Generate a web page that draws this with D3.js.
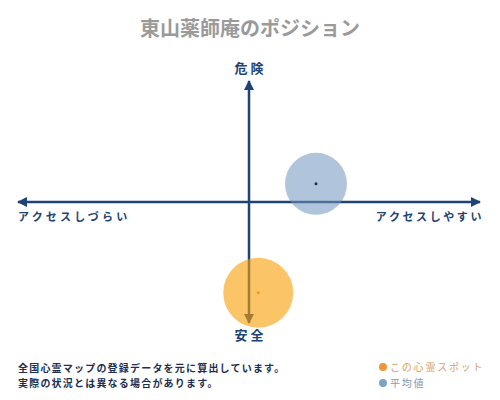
<!DOCTYPE html>
<html>
<head>
<meta charset="utf-8">
<script src="https://cdn.jsdelivr.net/npm/d3@7"></script>
<style>
  body { margin: 0; background: #fff; }
  text { font-family: "Noto Sans CJK JP", sans-serif; }
</style>
</head>
<body>
<div id="chart"></div>
<script>
// Chart data
const title = "東山薬師庵のポジション";
const axisLabels = ["危 険", "安 全", "アクセスしづらい", "アクセスしやすい"];
const seriesNames = ["この心霊スポット", "平均値"];
const seriesX = [0.04, 0.29];   // access (-1 hard .. 1 easy)
const seriesY = [-0.75, 0.15];  // danger (-1 safe .. 1 dangerous)
const seriesR = [35, 31];
const notes = ["全国心霊マップの登録データを元に算出しています。", "実際の状況とは異なる場合があります。"];

const width = 500, height = 400;
const navy = "#1d4474";
const colors = ["#f8a00a", "#6f93bd"];

const svg = d3.select("#chart").append("svg")
    .attr("width", width)
    .attr("height", height);

// Scales
const x = d3.scaleLinear().domain([-1, 1]).range([18, 480]);
const y = d3.scaleLinear().domain([-1, 1]).range([323, 81]);

// Arrow markers
const defs = svg.append("defs");
defs.append("marker")
    .attr("id", "arrow")
    .attr("viewBox", "0 0 10 10")
    .attr("refX", 9).attr("refY", 5)
    .attr("markerWidth", 4).attr("markerHeight", 4)
    .attr("orient", "auto-start-reverse")
    .append("path")
    .attr("d", "M0,0 L10,5 L0,10 Z")
    .attr("fill", navy);

// Axes
svg.append("line")
    .attr("x1", x(-1)).attr("x2", x(1))
    .attr("y1", y(0)).attr("y2", y(0))
    .attr("stroke", navy).attr("stroke-width", 2.5)
    .attr("marker-start", "url(#arrow)")
    .attr("marker-end", "url(#arrow)");
svg.append("line")
    .attr("x1", x(0)).attr("x2", x(0))
    .attr("y1", y(1)).attr("y2", y(-1))
    .attr("stroke", navy).attr("stroke-width", 2.5)
    .attr("marker-start", "url(#arrow)")
    .attr("marker-end", "url(#arrow)");

// Title
svg.append("text")
    .attr("x", width / 2).attr("y", 36)
    .attr("text-anchor", "middle")
    .attr("fill", "#9a9a9a")
    .attr("font-size", 20).attr("font-weight", "bold")
    .text(title);

// Axis labels
svg.append("text").attr("x", x(0)).attr("y", 73)
    .attr("text-anchor", "middle").attr("fill", navy)
    .attr("font-size", 13).attr("font-weight", "bold")
    .text(axisLabels[0]);
svg.append("text").attr("x", x(0)).attr("y", 340)
    .attr("text-anchor", "middle").attr("fill", navy)
    .attr("font-size", 13).attr("font-weight", "bold")
    .text(axisLabels[1]);
svg.append("text").attr("x", 18).attr("y", 221)
    .attr("fill", navy).attr("font-size", 11).attr("font-weight", "bold")
    .attr("letter-spacing", 3.2)
    .text(axisLabels[2]);
svg.append("text").attr("x", 484).attr("y", 221)
    .attr("text-anchor", "end")
    .attr("fill", navy).attr("font-size", 11).attr("font-weight", "bold")
    .attr("letter-spacing", 2.6)
    .text(axisLabels[3]);

// Bubbles (average drawn first, spot on top)
const points = seriesNames.map((n, i) => ({name: n, x: seriesX[i], y: seriesY[i], r: seriesR[i], color: colors[i]}));
const order = [points[1], points[0]];
svg.selectAll(".bubble")
    .data(order)
    .enter().append("circle")
    .attr("class", "bubble")
    .attr("cx", d => x(d.x))
    .attr("cy", d => y(d.y))
    .attr("r", d => d.r)
    .attr("fill", d => d.color)
    .attr("fill-opacity", d => d.name === seriesNames[0] ? 0.62 : 0.55);
svg.selectAll(".dot")
    .data(order)
    .enter().append("circle")
    .attr("class", "dot")
    .attr("cx", d => x(d.x))
    .attr("cy", d => y(d.y))
    .attr("r", 1.5)
    .attr("fill", d => d.name === seriesNames[0] ? "#f39a10" : "#1d2f4a");

// Notes
notes.forEach((t, i) => {
    svg.append("text")
        .attr("x", 18).attr("y", 372 + i * 15)
        .attr("fill", "#1d3050").attr("font-size", 10).attr("font-weight", "bold")
        .attr("letter-spacing", 1.2)
        .text(t);
});

// Legend
const legend = svg.selectAll(".legend")
    .data(points)
    .enter().append("g")
    .attr("class", "legend")
    .attr("transform", (d, i) => "translate(383," + (367 + i * 16) + ")");
legend.append("circle")
    .attr("r", 4)
    .attr("fill", d => d.name === seriesNames[0] ? "#f0963a" : "#7aa3c8");
legend.append("text")
    .attr("x", 7).attr("y", 4)
    .attr("font-size", 10)
    .attr("letter-spacing", 1.8)
    .attr("fill", d => d.name === seriesNames[0] ? "#d9a066" : "#7f9bb8")
    .text(d => d.name);
</script>
</body>
</html>
